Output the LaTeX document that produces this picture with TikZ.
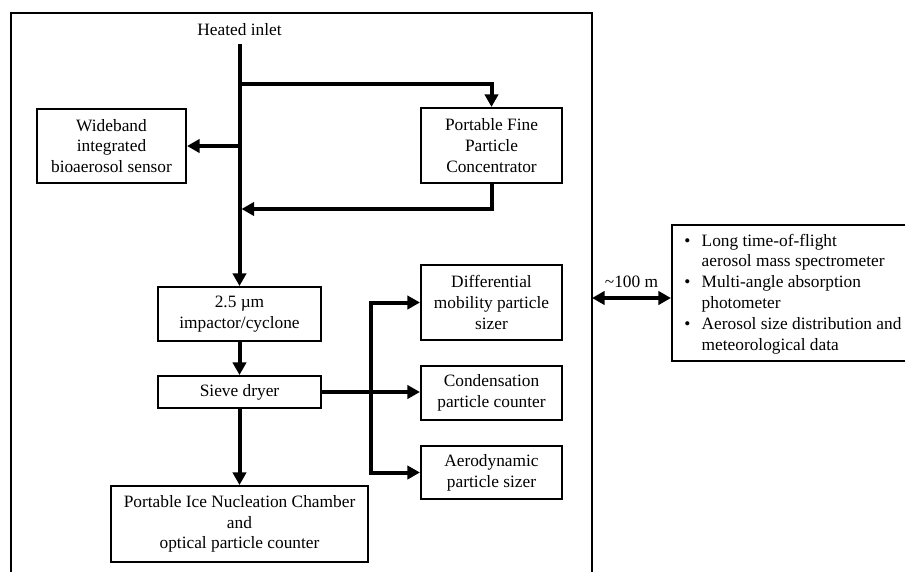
\documentclass[tikz,border=0pt]{standalone}
\usepackage{fontspec}
\setmainfont{Liberation Serif}
\usetikzlibrary{arrows.meta}

\begin{document}
\begin{tikzpicture}[x=0.75pt,y=-0.75pt,
  every node/.style={font=\fontsize{13}{15.6}\selectfont},
  box/.style={draw,line width=1.5pt,align=center,inner sep=0pt,minimum width=105.8pt},
  flow/.style={line width=3pt,-{Triangle[length=9.5pt,width=10pt]}},
  pipe/.style={line width=3pt}]
\useasboundingbox (0,0) rectangle (905,571);
\draw[line width=2.2pt] (11,600) -- (11,13) -- (592,13) -- (592,600);
\node[inner sep=6pt] (inlet) at (239.5,30) {Heated inlet};
\node[box,minimum width=111.8pt,minimum height=55.5pt] (wideband) at (111.5,146) {Wideband\\integrated\\bioaerosol sensor};
\node[box,minimum height=56.3pt] (pfpc) at (491.5,145.5) {Portable Fine\\Particle\\Concentrator};
\node[box,minimum width=122.3pt,minimum height=40.5pt] (impactor) at (239.5,314) {2.5 µm\\impactor/cyclone};
\node[box,minimum width=122.3pt,minimum height=24pt] (dryer) at (239.5,392) {Sieve dryer};
\node[box,minimum width=192.8pt,minimum height=57pt] (pinc) at (239.5,524) {Portable Ice Nucleation Chamber\\and\\optical particle counter};
\node[box,minimum height=56.3pt] (dmps) at (491.5,302.5) {Differential\\mobility particle\\sizer};
\node[box,minimum height=40.5pt] (cpc) at (491.5,393) {Condensation\\particle counter};
\node[box,minimum height=39.8pt] (aps) at (491.5,472.5) {Aerodynamic\\particle sizer};
\node[box,minimum width=194pt,minimum height=102pt,anchor=west] (remote) at (671,293) {};
\node[anchor=west,inner sep=0pt] (remotetxt) at (684,294) {%
  \begin{tabular}{@{}l@{\hspace{8.5pt}}l@{}}
  \textbullet & Long time-of-flight\\
   & aerosol mass spectrometer\\
  \textbullet & Multi-angle absorption\\
   & photometer\\
  \textbullet & Aerosol size distribution and\\
   & meteorological data
  \end{tabular}};
\coordinate (split) at (239.5,84);
\coordinate (merge) at (241.5,209);
\coordinate (bus) at (371,393);
\coordinate (siteE) at (592,298);
\draw[flow] (inlet.south) -- (impactor.north);
\draw[flow] (split) -| (pfpc.north);
\draw[flow] (impactor.north |- wideband.east) -- (wideband.east);
\draw[flow] (pfpc.south) |- (merge);
\draw[flow] (impactor.south) -- (dryer.north);
\draw[flow] (dryer.south) -- (pinc.north);
\draw[flow] (dryer.east) -- (dryer.east -| cpc.west);
\draw[flow] (bus) |- (dmps.west);
\draw[flow] (bus) |- (aps.west);
\draw[pipe,{Triangle[length=9.5pt,width=10pt]}-{Triangle[length=9.5pt,width=10pt]}] (siteE) -- (siteE -| remote.west) node[midway,above=3pt] (dist) {\textasciitilde100 m};
\end{tikzpicture}
\end{document}
